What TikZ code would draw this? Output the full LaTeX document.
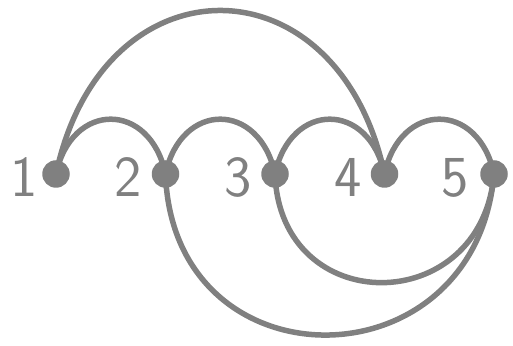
\documentclass[tikz,border=0pt]{standalone}
\definecolor{arcgray}{RGB}{128,128,128}
\begin{document}
\begin{tikzpicture}[x=1pt,y=1pt,
  dot/.style={circle,fill=arcgray,inner sep=0pt,minimum size=27.5pt},
  lab/.style={text=arcgray,font=\fontsize{58}{60}\selectfont\sffamily,inner sep=0pt},
  arcline/.style={draw=arcgray,line width=5.5pt}]
\useasboundingbox (0,0) rectangle (513,345);
\coordinate (c1) at (56,171);
\coordinate (c2) at (165.5,171);
\coordinate (c3) at (275,171);
\coordinate (c4) at (384.5,171);
\coordinate (c5) at (494,171);
% upper arcs
\draw[arcline] (c1) to[out=78,in=102,looseness=1.75] (c2);
\draw[arcline] (c2) to[out=78,in=102,looseness=1.75] (c3);
\draw[arcline] (c3) to[out=78,in=102,looseness=1.75] (c4);
\draw[arcline] (c4) to[out=78,in=102,looseness=1.75] (c5);
\draw[arcline] (c1) to[out=78,in=102,looseness=1.74] (c4);
% lower arcs
\draw[arcline] (c3) to[out=-88,in=-95,looseness=1.7] (c5);
\draw[arcline] (c2) to[out=-88,in=-95,looseness=1.68] (c5);
% dots
\node[dot] (n1) at (c1) {};
\node[dot] (n2) at (c2) {};
\node[dot] (n3) at (c3) {};
\node[dot] (n4) at (c4) {};
\node[dot] (n5) at (c5) {};
% labels
\node[lab] (l1) at (24,167.5) {1};
\node[lab] (l2) at (128.5,167.5) {2};
\node[lab] (l3) at (238,167.5) {3};
\node[lab] (l4) at (348,167.5) {4};
\node[lab] (l5) at (455,167.5) {5};
\end{tikzpicture}
\end{document}
